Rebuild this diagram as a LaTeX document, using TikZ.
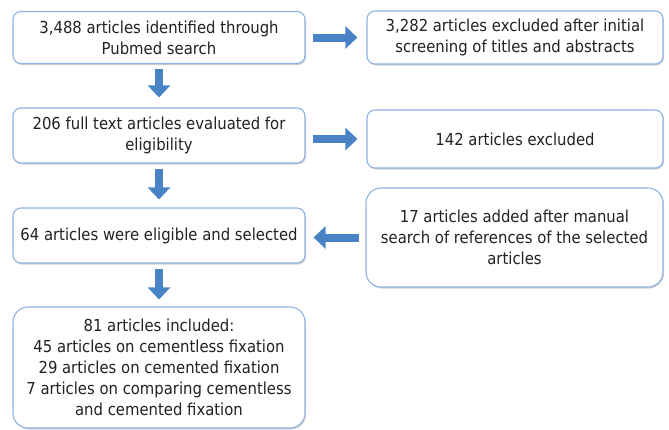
\documentclass[tikz,border=0pt]{standalone}
\usepackage{fontspec}
\setmainfont{DejaVu Sans Condensed}
\usepackage{tikz}
\usetikzlibrary{arrows.meta,shadows}

\definecolor{boxline}{HTML}{8DB3E2}
\definecolor{flowblue}{HTML}{4A82C6}
\definecolor{txt}{HTML}{222222}

\begin{document}
\begin{tikzpicture}[x=1pt, y=-1pt,
        box/.style={draw=boxline, line width=1.1pt, fill=white, rounded corners=8pt, align=center,
            text=txt, inner sep=2pt,
            drop shadow={shadow xshift=1pt, shadow yshift=-1.5pt, opacity=0.3, fill=black!60}},
        bigbox/.style={box, rounded corners=15pt},
        flow/.style={draw=flowblue, line width=8pt, -{Triangle[width=22pt, length=12pt]}},
        font=\fontsize{16.5}{21}\selectfont]
        \useasboundingbox (0,0) rectangle (669,429);

        \node[box, minimum width=292pt, minimum height=52pt] (B1) at (159,37.5) {3,488 articles identified through\\Pubmed search};
        \node[box, minimum width=296pt, minimum height=53pt] (B2) at (515,37.5) {3,282 articles excluded after initial\\screening of titles and abstracts};
        \node[box, minimum width=292pt, minimum height=55pt] (B3) at (159,135.5) {206 full text articles evaluated for\\eligibility};
        \node[box, minimum width=296pt, minimum height=58pt] (B4) at (515,139) {142 articles excluded};
        \node[box, minimum width=292pt, minimum height=55pt] (B5) at (159,235.5) {64 articles were eligible and selected};
        \node[bigbox, minimum width=297pt, minimum height=99pt] (B6) at (514.5,237.5) {17 articles added after manual\\search of references of the selected\\articles};
        \node[bigbox, minimum width=292pt, minimum height=121pt] (B7) at (159,367.5) {81 articles included:\\45 articles on cementless fixation\\29 articles on cemented fixation\\7 articles on comparing cementless\\and cemented fixation};

        \draw[flow, shorten <=7pt, shorten >=9pt] (B1.east) -- (B2.west |- B1.east);
        \draw[flow, shorten <=5pt, shorten >=10pt] (B1) -- (B3);
        \draw[flow, shorten <=7pt, shorten >=9pt] (B3.east |- B4) -- (B4.west);
        \draw[flow, shorten <=5pt, shorten >=8pt] (B3) -- (B5);
        \draw[flow, shorten <=6pt, shorten >=8pt] (B6.west) -- (B5.east |- B6.west);
        \draw[flow, shorten <=5pt, shorten >=7pt] (B5) -- (B7);
    \end{tikzpicture}
\end{document}
